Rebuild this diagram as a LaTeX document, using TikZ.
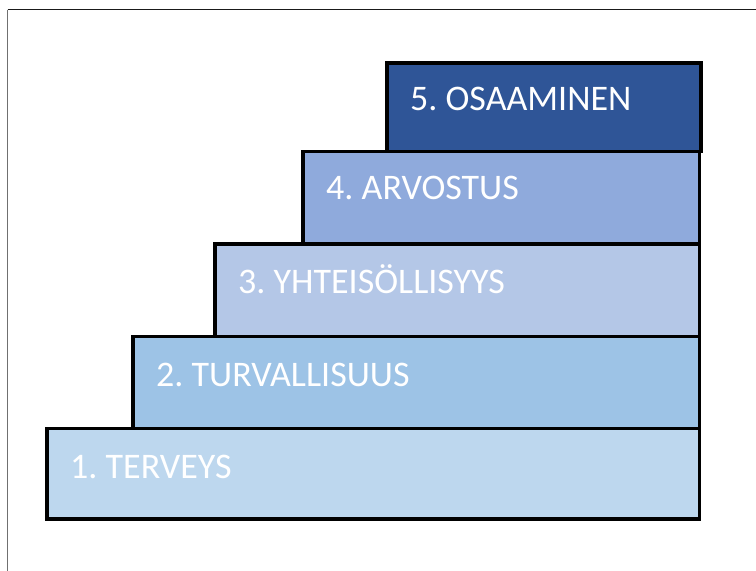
\documentclass[tikz,border=0pt]{standalone}
\usepackage{fontspec}
\setmainfont{Carlito}
\usetikzlibrary{calc}

\definecolor{tierA}{HTML}{BDD7EE}
\definecolor{tierB}{HTML}{9DC3E6}
\definecolor{tierC}{HTML}{B4C7E7}
\definecolor{tierD}{HTML}{8FAADC}
\definecolor{tierE}{HTML}{2F5597}
\definecolor{frameTop}{HTML}{1A1A1A}
\definecolor{frameSide}{HTML}{707070}

\tikzset{
  tier/.style={draw=black, line width=3.8pt, rectangle, inner sep=0pt,
    outer sep=0pt, anchor=north west},
  tierlabel/.style={text=white, inner sep=0pt, anchor=base west,
    font=\fontsize{36}{42}\selectfont\frenchspacing},
}

\begin{document}
\begin{tikzpicture}[x=1pt, y=-1pt]
  \useasboundingbox (0,0) rectangle (756,571);

  % page frame (top and left edges)
  \coordinate (fTL) at (7.5,9.5);
  \coordinate (fTR) at (756,9.5);
  \coordinate (fBL) at (7.5,571);
  \draw[frameSide, line width=1.6pt] (fTL) -- (fBL);
  \draw[frameTop, line width=1.4pt] (fTL) -- (fTR);

  % staircase of tiers, bottom to top
  \node[tier, fill=tierA, minimum width=652.5pt, minimum height=90.5pt] (t1) at (47,428.5) {};
  \node[tier, fill=tierB, minimum width=566.5pt, minimum height=92pt] (t2) at (133,336.5) {};
  \node[tier, fill=tierC, minimum width=484.5pt, minimum height=92.5pt] (t3) at (215,244) {};
  \node[tier, fill=tierD, minimum width=396.5pt, minimum height=92pt] (t4) at (303,151.5) {};
  \node[tier, fill=tierE, minimum width=314pt, minimum height=88.5pt] (t5) at (387,63) {};

  % labels
  \node[tierlabel] (l1) at ($(t1.north west)+(23,49.5)$) {1. TERVEYS};
  \node[tierlabel] (l2) at ($(t2.north west)+(23,49.5)$) {2. TURVALLISUUS};
  \node[tierlabel] (l3) at ($(t3.north west)+(23,49.5)$) {3. YHTEISÖLLISYYS};
  \node[tierlabel] (l4) at ($(t4.north west)+(23,48)$) {4. ARVOSTUS};
  \node[tierlabel] (l5) at ($(t5.north west)+(23,47)$) {5. OSAAMINEN};
\end{tikzpicture}
\end{document}
